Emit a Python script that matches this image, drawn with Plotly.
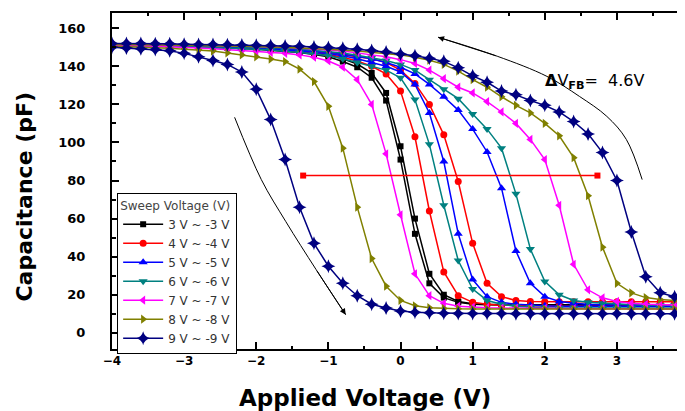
import plotly.graph_objects as go

# Applied voltage grid (V)
V = [-4.0, -3.8, -3.6, -3.4, -3.2, -3.0, -2.8, -2.6, -2.4, -2.2, -2.0, -1.8, -1.6, -1.4,
     -1.2, -1.0, -0.8, -0.6, -0.4, -0.2, 0.0, 0.2, 0.4, 0.6, 0.8, 1.0, 1.2, 1.4, 1.6, 1.8,
     2.0, 2.2, 2.4, 2.6, 2.8, 3.0, 3.2, 3.4, 3.6, 3.8, 4.0]

sweep_names = ["3 V ~ -3 V", "4 V ~ -4 V", "5 V ~ -5 V", "6 V ~ -6 V",
               "7 V ~ -7 V", "8 V ~ -8 V", "9 V ~ -9 V"]

# Capacitance (pF): forward (left) and reverse (right) branches
C3_fwd = [151.0, 151.0, 150.9, 150.8, 150.7, 150.5, 150.3, 150.0, 149.7, 149.4, 149.0, 148.5, 148.0, 147.2, 146.2,
          145.0, 142.5, 139.5, 134.0, 122.0, 91.0, 52.0, 26.0, 18.5, 16.0, 15.0, 14.7, 14.5, 14.5, 14.5, 14.5,
          14.5, 14.5, 14.5, 14.5, 14.5, 14.5, 14.5, 14.5, 14.5, 14.5]
C3_rev = [151.3, 151.3, 151.2, 151.1, 151.0, 150.8, 150.6, 150.3, 150.0, 149.7, 149.3, 148.9, 148.4, 147.7, 146.8,
          145.8, 144.0, 141.2, 136.5, 126.0, 98.0, 60.0, 31.0, 20.0, 16.5, 15.3, 15.0, 14.8, 14.8, 14.8, 14.8,
          14.8, 14.8, 14.8, 14.8, 14.8, 14.8, 14.8, 14.8, 14.8, 14.8]
C4_fwd = [151.0, 151.0, 151.0, 150.9, 150.8, 150.6, 150.4, 150.2, 150.0, 149.7, 149.4, 149.0, 148.5, 148.0, 147.2,
          146.2, 144.8, 142.8, 140.0, 136.0, 127.0, 103.0, 64.0, 32.0, 19.5, 16.0, 15.0, 14.5, 14.3, 14.2, 14.0,
          14.0, 14.0, 14.0, 14.0, 14.0, 14.0, 14.0, 14.0, 14.0, 14.0]
C4_rev = [151.5, 151.5, 151.5, 151.4, 151.3, 151.1, 150.9, 150.7, 150.5, 150.2, 150.0, 149.6, 149.1, 148.5, 147.8,
          147.0, 146.0, 145.0, 144.0, 142.0, 138.0, 131.0, 120.0, 104.0, 79.5, 47.0, 26.0, 19.0, 17.0, 16.5, 16.3,
          16.3, 16.3, 16.3, 16.3, 16.3, 16.3, 16.3, 16.3, 16.3, 16.3]
C5_fwd = [151.0, 151.0, 151.0, 150.9, 150.8, 150.6, 150.5, 150.3, 150.0, 149.8, 149.5, 149.1, 148.7, 148.1, 147.5,
          146.6, 145.5, 144.0, 142.0, 140.0, 137.0, 130.5, 115.5, 90.0, 52.0, 28.0, 19.0, 16.0, 15.0, 14.5, 14.2,
          14.0, 14.0, 14.0, 14.0, 14.0, 14.0, 14.0, 14.0, 14.0, 14.0]
C5_rev = [151.5, 151.5, 151.5, 151.4, 151.3, 151.1, 150.9, 150.7, 150.5, 150.3, 150.0, 149.6, 149.2, 148.7, 148.1,
          147.4, 146.5, 145.3, 144.0, 142.0, 139.5, 136.0, 130.5, 124.0, 117.0, 107.0, 95.0, 76.0, 43.0, 26.0, 19.0,
          16.5, 15.5, 15.0, 14.8, 14.7, 14.7, 14.7, 14.7, 14.7, 14.7]
C6_fwd = [151.0, 151.0, 150.8, 150.7, 150.5, 150.3, 150.0, 149.8, 149.5, 149.3, 149.0, 148.5, 148.0, 147.3, 146.5,
          145.5, 144.0, 142.0, 140.0, 138.0, 134.0, 122.5, 99.0, 67.0, 38.0, 23.0, 17.0, 15.0, 14.0, 13.5, 13.2,
          13.0, 13.0, 13.0, 13.0, 13.0, 13.0, 13.0, 13.0, 13.0, 13.0]
C6_rev = [151.5, 151.5, 151.5, 151.4, 151.3, 151.0, 150.8, 150.7, 150.6, 150.4, 150.2, 149.9, 149.6, 149.1, 148.5,
          147.8, 147.0, 145.8, 144.5, 143.0, 141.0, 138.0, 133.0, 128.0, 123.0, 115.0, 107.0, 97.0, 73.0, 44.0, 27.0,
          20.0, 17.0, 16.0, 15.5, 15.0, 14.8, 14.6, 14.5, 14.5, 14.5]
C7_fwd = [151.0, 151.0, 150.8, 150.5, 150.3, 150.0, 149.6, 149.2, 148.8, 148.3, 147.8, 147.3, 146.8, 146.0, 144.8,
          142.8, 139.5, 133.0, 120.0, 94.0, 62.0, 31.0, 19.5, 15.5, 14.0, 13.5, 13.2, 13.0, 13.0, 13.0, 12.8,
          12.8, 12.7, 12.7, 12.6, 12.6, 12.5, 12.5, 12.5, 12.5, 12.5]
C7_rev = [151.5, 151.5, 151.5, 151.4, 151.3, 151.2, 151.0, 150.9, 150.8, 150.6, 150.5, 150.2, 150.0, 149.6, 149.0,
          148.6, 148.0, 147.2, 146.0, 145.0, 143.5, 141.5, 138.0, 133.5, 129.0, 126.0, 121.5, 116.0, 110.0, 101.6, 91.0,
          67.0, 36.0, 22.6, 18.4, 16.5, 15.5, 15.0, 14.8, 14.6, 14.5]
C8_fwd = [150.5, 150.3, 150.0, 149.8, 149.5, 149.0, 148.5, 148.0, 147.0, 146.0, 145.0, 143.8, 142.5, 138.5, 132.0,
          119.0, 97.0, 66.0, 39.0, 24.5, 17.0, 14.2, 13.2, 12.8, 12.6, 12.5, 12.5, 12.5, 12.5, 12.5, 12.5,
          12.5, 12.5, 12.5, 12.5, 12.5, 12.5, 12.5, 12.5, 12.5, 12.5]
C8_rev = [151.5, 151.5, 151.4, 151.3, 151.2, 151.1, 151.0, 150.9, 150.8, 150.6, 150.4, 150.2, 150.0, 149.7, 149.4,
          149.0, 148.6, 148.1, 147.5, 146.8, 146.0, 144.8, 143.2, 141.0, 137.5, 133.0, 129.0, 124.0, 119.5, 115.5, 110.0,
          103.5, 92.0, 72.0, 45.0, 26.0, 21.0, 18.5, 17.5, 17.0, 16.8]
C9_fwd = [150.0, 149.6, 149.2, 148.8, 148.2, 146.8, 145.0, 143.0, 141.0, 137.0, 128.0, 112.0, 91.0, 66.0, 47.0,
          35.0, 26.0, 19.5, 15.0, 13.0, 11.5, 10.8, 10.5, 10.3, 10.2, 10.2, 10.1, 10.1, 10.0, 10.0, 10.0,
          10.0, 10.0, 10.0, 10.0, 10.0, 10.0, 10.0, 10.0, 10.0, 10.0]
C9_rev = [152.0, 152.0, 152.0, 151.8, 151.8, 151.6, 151.5, 151.4, 151.3, 151.2, 151.0, 150.9, 150.7, 150.5, 150.2,
          149.9, 149.5, 149.0, 148.3, 147.5, 146.5, 145.5, 144.2, 142.6, 139.2, 135.0, 131.6, 127.0, 125.0, 122.0, 119.5,
          116.0, 111.0, 104.5, 94.7, 80.0, 53.0, 29.5, 21.0, 19.0, 18.0]

fwd_branches = [C3_fwd, C4_fwd, C5_fwd, C6_fwd, C7_fwd, C8_fwd, C9_fwd]
rev_branches = [C3_rev, C4_rev, C5_rev, C6_rev, C7_rev, C8_rev, C9_rev]

# Flat-band shift marker line (ΔV_FB) at mid capacitance
dv_x = [-1.35, 2.73]
dv_y = [82.6, 82.6]

# Sweep direction arrows (data coords), arrowhead at the last point
arrow_fwd_x = [-2.30, -1.93, -1.59, -1.17, -0.76]
arrow_fwd_y = [113.2, 80.5, 58.4, 33.2, 9.5]
arrow_rev_x = [3.35, 3.13, 2.86, 2.48, 2.03, 1.34, 0.52]
arrow_rev_y = [80.5, 101.6, 113.7, 124.2, 134.7, 145.3, 155.3]

x_ticks = [-4, -3, -2, -1, 0, 1, 2, 3]
y_ticks = [0, 20, 40, 60, 80, 100, 120, 140, 160]

colors = ["#000000", "#ff0000", "#0000ff", "#008080", "#ff00ff", "#808000", "#000080"]
symbols = ["square", "circle", "triangle-up", "triangle-down", "triangle-left", "triangle-right", "star-diamond"]
msizes = [6, 7, 8, 8, 8, 8, 10]

fig = go.Figure()

# direction arrows (thin curves)
for ax_, ay_ in [(arrow_fwd_x, arrow_fwd_y), (arrow_rev_x, arrow_rev_y)]:
    fig.add_trace(go.Scatter(x=ax_, y=ay_, mode="lines",
                             line=dict(color="black", width=1, shape="spline"),
                             showlegend=False, hoverinfo="skip"))

for i, name in enumerate(sweep_names):
    for j, ys in enumerate([fwd_branches[i], rev_branches[i]]):
        fig.add_trace(go.Scatter(
            x=V, y=ys, mode="lines+markers", name=name, legendgroup=name, showlegend=(j == 0),
            line=dict(color=colors[i], width=1.5),
            marker=dict(symbol=symbols[i], size=msizes[i], color=colors[i], line=dict(width=0)),
        ))

fig.add_trace(go.Scatter(x=dv_x, y=dv_y, mode="lines+markers", showlegend=False,
                         line=dict(color="#ff0000", width=1.5),
                         marker=dict(symbol="square", size=6, color="#ff0000")))

ann = [
    dict(x=arrow_fwd_x[-1], y=arrow_fwd_y[-1], ax=arrow_fwd_x[-2], ay=arrow_fwd_y[-2], xref="x", yref="y",
         axref="x", ayref="y", showarrow=True, arrowhead=2, arrowsize=1.2, arrowwidth=1, arrowcolor="black", text=""),
    dict(x=arrow_rev_x[-1], y=arrow_rev_y[-1], ax=arrow_rev_x[-2], ay=arrow_rev_y[-2], xref="x", yref="y",
         axref="x", ayref="y", showarrow=True, arrowhead=2, arrowsize=1.2, arrowwidth=1, arrowcolor="black", text=""),
    dict(x=1.98, y=132, xref="x", yref="y", xanchor="left", yanchor="middle", showarrow=False,
         text="<b>Δ</b>V<sub><b>FB</b></sub>=  4.6V", font=dict(family="DejaVu Sans", size=16, color="black")),
    dict(x=0.442, y=-0.145, xref="paper", yref="paper", xanchor="center", yanchor="middle", showarrow=False,
         text="<b>Applied Voltage (V)</b>", font=dict(family="DejaVu Sans", size=23, color="black")),
    dict(x=-0.153, y=0.455, xref="paper", yref="paper", xanchor="center", yanchor="middle", showarrow=False,
         textangle=-90, text="<b>Capacitance (pF)</b>", font=dict(family="DejaVu Sans", size=22, color="black")),
]

# The page body adds an 8px offset; the figure is sized and margined to compensate.
fig.update_layout(
    width=677, height=403,
    margin=dict(l=104, r=1, t=5, b=62),
    paper_bgcolor="white", plot_bgcolor="white",
    annotations=ann,
    showlegend=True,
    legend=dict(x=0.009, y=0.464, xanchor="left", yanchor="top",
                bgcolor="white", bordercolor="black", borderwidth=1,
                title=dict(text="Sweep Voltage (V)", font=dict(family="DejaVu Sans", size=12, color="#444444")),
                font=dict(family="DejaVu Sans", size=12, color="#333333"),
                itemwidth=40, tracegroupgap=0),
    xaxis=dict(range=[-4.0, 3.93], tickvals=x_ticks, ticks="inside", ticklen=7, tickwidth=2,
               showline=True, linecolor="black", linewidth=2, mirror="ticks", showgrid=False, zeroline=False,
               automargin=False,
               tickfont=dict(family="DejaVu Sans", size=12, color="black", weight="bold"),
               minor=dict(dtick=0.5, ticks="inside", ticklen=3, tickwidth=2, tickcolor="black"),
               tickcolor="black"),
    yaxis=dict(range=[-8.5, 168], tickvals=y_ticks, ticks="inside", ticklen=7, tickwidth=2,
               showline=True, linecolor="black", linewidth=2, mirror="ticks", showgrid=False, zeroline=False,
               automargin=False,
               tickfont=dict(family="DejaVu Sans", size=13, color="black", weight="bold"),
               minor=dict(dtick=10, ticks="inside", ticklen=4, tickwidth=2, tickcolor="black"),
               tickcolor="black", ticklabelstandoff=22),
)

fig.write_html("out.html")
